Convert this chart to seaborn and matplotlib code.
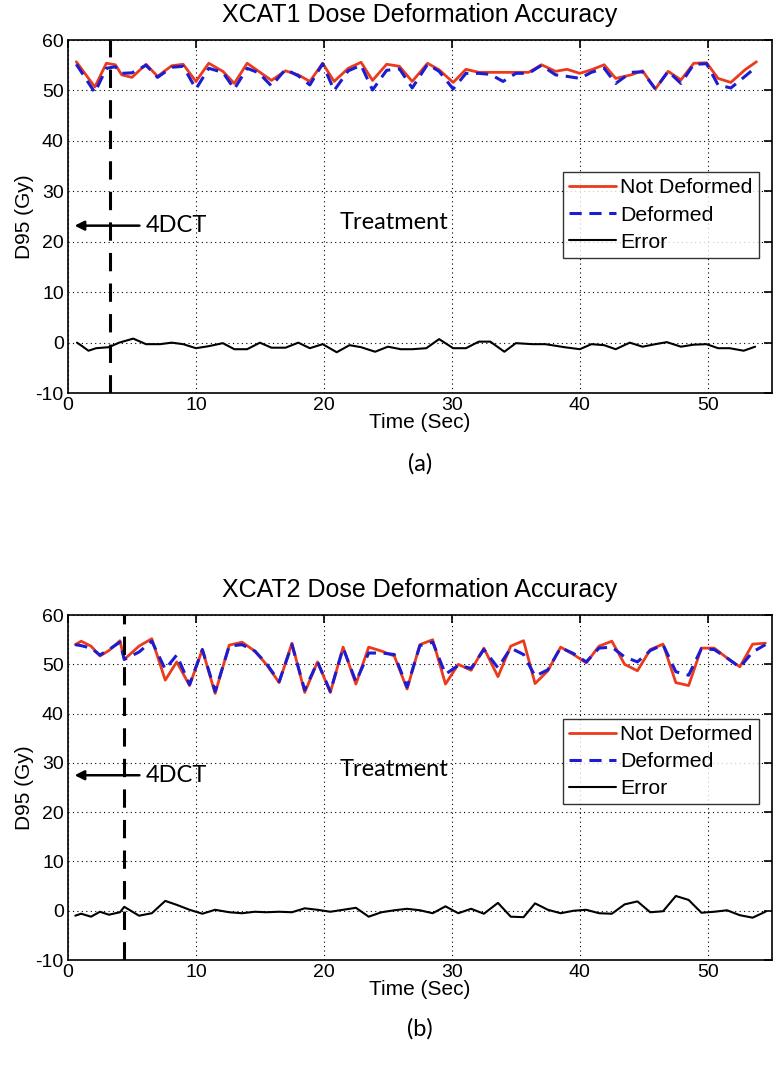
import numpy as np
import pandas as pd
import matplotlib
matplotlib.use("Agg")
import matplotlib.pyplot as plt
import seaborn as sns

# --- XCAT1 (a) ---
t1 = [0.65, 2.1, 3.0, 3.7, 4.2, 5.0, 6.1, 7.0, 8.1, 9.0, 10.0, 11.0, 12.1, 13.0, 14.0,
      14.9, 15.9, 17.0, 18.0, 18.9, 19.9, 20.8, 21.9, 22.9, 23.8, 24.9, 25.9, 26.9, 28.1, 29.0,
      30.1, 31.1, 32.1, 33.0, 34.0, 35.0, 36.0, 37.0, 38.1, 39.0, 40.0, 40.9, 41.9, 42.8, 44.0,
      44.9, 45.9, 46.9, 47.9, 48.9, 49.9, 50.8, 51.8, 52.9, 53.8]
not_def1 = [55.7, 50.7, 55.4, 55.1, 53.1, 52.6, 55.2, 52.8, 54.9, 55.2, 51.8, 55.4, 53.8, 51.4, 55.4,
            53.8, 52.0, 53.9, 53.1, 51.8, 55.4, 51.8, 54.4, 55.6, 52.0, 55.2, 54.8, 51.8, 55.4, 54.1,
            51.6, 54.2, 53.6, 53.6, 53.6, 53.6, 53.6, 55.1, 53.8, 54.2, 53.4, 54.1, 55.1, 52.4, 53.1,
            53.9, 50.3, 53.8, 52.1, 55.4, 55.5, 52.4, 51.6, 54.1, 55.7]
deform1 = [55.2, 49.6, 54.4, 54.7, 53.4, 53.5, 55.0, 52.6, 54.6, 54.8, 50.3, 54.4, 53.6, 50.3, 54.4,
           53.5, 50.9, 54.2, 52.9, 51.1, 55.3, 50.0, 53.9, 55.0, 50.1, 54.0, 54.3, 50.5, 55.2, 53.8,
           50.3, 53.4, 53.4, 53.2, 51.8, 53.4, 53.4, 55.0, 53.1, 52.8, 52.4, 53.6, 54.4, 51.4, 53.6,
           53.7, 50.3, 53.8, 51.4, 55.2, 55.3, 51.1, 50.5, 52.8, 54.7]
t_err1 = [0.7, 1.0, 1.6, 2.2, 3.2, 4.0, 5.1, 6.1, 7.2, 8.1, 9.0, 10.0, 11.0, 12.1, 13.0,
          14.0, 15.0, 15.9, 17.0, 18.0, 18.9, 19.9, 21.0, 22.0, 22.9, 24.0, 25.0, 26.0, 26.9, 28.0,
          29.0, 30.1, 31.1, 32.1, 33.0, 34.1, 35.0, 36.3, 37.3, 38.8, 40.0, 40.9, 41.9, 42.8, 43.9,
          44.9, 45.9, 46.8, 47.9, 48.9, 49.9, 50.8, 51.7, 52.8, 53.7]
err1 = [0.0, -0.5, -1.6, -1.1, -0.9, 0.0, 0.8, -0.3, -0.3, 0.0, -0.3, -1.1, -0.7, -0.1, -1.3,
        -1.3, 0.0, -1.0, -1.0, 0.0, -1.1, -0.3, -1.9, -0.5, -0.9, -1.8, -0.8, -1.3, -1.3, -1.1,
        0.7, -1.1, -1.1, 0.2, 0.2, -1.8, -0.1, -0.3, -0.3, -0.9, -1.3, -0.3, -0.5, -1.3, 0.0,
        -0.8, -0.3, 0.1, -0.8, -0.4, -0.3, -1.1, -1.1, -1.6, -0.8]
split1 = 3.25

# --- XCAT2 (b) ---
t2 = [0.57, 1.03, 1.8, 2.5, 3.2, 4.06, 4.4, 5.55, 6.55, 7.6, 8.5, 9.5, 10.5, 11.5, 12.6,
      13.6, 14.6, 15.5, 16.5, 17.5, 18.5, 19.5, 20.5, 21.5, 22.5, 23.5, 24.5, 25.5, 26.5, 27.5,
      28.5, 29.5, 30.5, 31.5, 32.5, 33.6, 34.6, 35.6, 36.5, 37.5, 38.5, 39.5, 40.5, 41.5, 42.5,
      43.5, 44.5, 45.5, 46.5, 47.5, 48.5, 49.5, 50.5, 51.5, 52.5, 53.5, 54.5]
not_def2 = [54.0, 54.7, 53.7, 51.7, 52.8, 54.8, 51.0, 53.7, 55.2, 46.8, 50.5, 45.7, 53.0, 44.1, 53.9,
            54.5, 52.7, 50.0, 46.3, 54.3, 44.3, 50.5, 44.3, 53.5, 46.0, 53.5, 52.7, 51.7, 45.0, 54.0,
            55.0, 46.0, 50.0, 48.8, 53.3, 47.5, 53.7, 54.8, 46.1, 48.7, 53.5, 52.0, 50.3, 53.7, 54.7,
            50.0, 48.7, 53.0, 54.1, 46.3, 45.7, 53.3, 53.3, 51.3, 49.5, 54.1, 54.3]
deform2 = [54.0, 53.8, 53.3, 51.9, 53.0, 54.5, 51.0, 52.5, 54.7, 49.0, 51.9, 45.9, 53.0, 44.5, 53.7,
           54.0, 52.7, 50.2, 46.5, 54.0, 44.8, 50.5, 44.5, 53.3, 46.5, 52.3, 52.3, 52.0, 45.4, 53.8,
           54.5, 48.0, 49.8, 49.2, 53.0, 49.3, 53.3, 52.0, 47.6, 48.9, 53.4, 52.2, 50.5, 53.3, 53.5,
           51.5, 50.5, 52.8, 54.0, 48.5, 47.8, 53.2, 53.0, 51.3, 49.4, 52.5, 54.0]
err2 = [-1.0, -0.6, -1.2, -0.2, -0.8, -0.3, 0.8, -1.0, -0.5, 2.0, 1.2, 0.2, -0.6, 0.2, -0.3,
        -0.5, -0.2, -0.3, -0.2, -0.3, 0.5, 0.2, -0.2, 0.2, 0.6, -1.2, -0.3, 0.1, 0.4, 0.1,
        -0.5, 0.9, -0.5, 0.4, -0.6, 1.6, -1.2, -1.3, 1.5, 0.2, -0.5, 0.0, 0.2, -0.5, -0.6,
        1.3, 1.9, -0.3, -0.1, 3.0, 2.2, -0.4, -0.2, 0.1, -0.9, -1.4, -0.2]
split2 = 4.35

sns.set_style("white")
plt.rcParams['font.family'] = ['Liberation Sans', 'DejaVu Sans']
plt.rcParams['axes.unicode_minus'] = False
plt.rcParams['text.color'] = 'black'
plt.rcParams['axes.labelcolor'] = 'black'

RED = '#ec3a1c'
BLUE = '#1c1cd2'

fig = plt.figure(figsize=(7.76, 10.74), dpi=100)
ax1 = fig.add_axes([0.0876, 0.634, 0.907, 0.3287])
ax2 = fig.add_axes([0.0876, 0.1061, 0.907, 0.3212])


def draw(ax, t, nd, d, te, e, split, title, lab, txt_y, leg_top, arrow_y):
    sns.lineplot(x=t, y=nd, ax=ax, color=RED, lw=2.0, label='Not Deformed')
    sns.lineplot(x=t, y=d, ax=ax, color=BLUE, lw=2.2, label='Deformed')
    ax.lines[-1].set_linestyle((0, (4, 2.5)))
    sns.lineplot(x=te, y=e, ax=ax, color='black', lw=1.5, label='Error')
    ax.axvline(split, color='black', lw=2.2, linestyle=(0, (6, 4)))
    ax.set_xlim(0, 55)
    ax.set_ylim(-10, 60)
    ax.set_xticks(range(0, 51, 10))
    ax.set_yticks(range(-10, 61, 10))
    ax.grid(True, linestyle=(0, (1, 3)), color='black', lw=0.8)
    for s in ax.spines.values():
        s.set_color('black')
        s.set_linewidth(1.2)
    ax.tick_params(direction='in', top=True, right=True, length=6, width=1.2,
                   labelsize=14, colors='black', pad=3)
    ax.set_title(title, fontsize=18, pad=13, color='black')
    ax.set_xlabel('Time (Sec)', fontsize=15, labelpad=-1)
    ax.set_ylabel('D95 (Gy)', fontsize=15, labelpad=1)
    ax.annotate('', xy=(0.3, arrow_y), xytext=(5.8, arrow_y),
                arrowprops=dict(arrowstyle='-|>', color='black', lw=1.8,
                                mutation_scale=14))
    ax.text(6.1, arrow_y, '4DCT', fontsize=17, family=['Lato', 'DejaVu Sans'],
            va='center', ha='left')
    ax.text(21.2, txt_y, 'Treatment', fontsize=17, family=['Lato', 'DejaVu Sans'],
            va='center', ha='left')
    leg = ax.legend(loc='upper right', bbox_to_anchor=(0.982, leg_top), fontsize=15.3,
                    frameon=True, fancybox=False, handlelength=2.2, handletextpad=0.2,
                    borderpad=0.3, labelspacing=0.38, borderaxespad=0)
    leg.get_frame().set_edgecolor('black')
    leg.get_frame().set_linewidth(1.0)
    for txt in leg.get_texts():
        txt.set_color('black')
    ax.text(0.5, -0.20, lab, transform=ax.transAxes, fontsize=17,
            family=['Lato', 'DejaVu Sans'], ha='center', va='center')


draw(ax1, t1, not_def1, deform1, t_err1, err1, split1,
     'XCAT1 Dose Deformation Accuracy', '(a)', 23.8, 0.626, 23.2)
draw(ax2, t2, not_def2, deform2, t2, err2, split2,
     'XCAT2 Dose Deformation Accuracy', '(b)', 28.6, 0.70, 27.5)

fig.savefig('out.png', dpi=100)
